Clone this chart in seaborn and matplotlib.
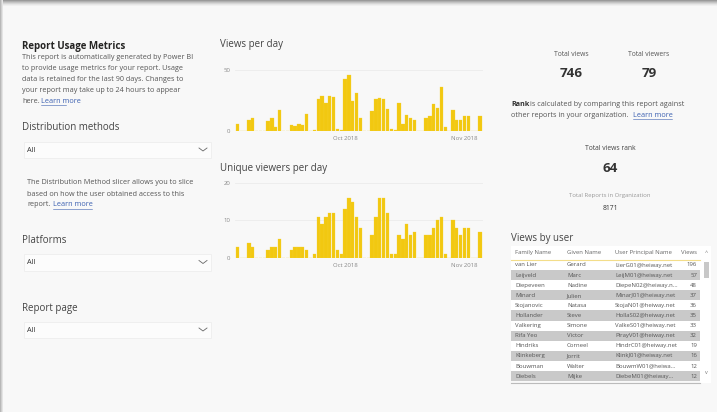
import pandas as pd
import seaborn as sns
import matplotlib.pyplot as plt
from matplotlib.patches import Rectangle
from matplotlib.lines import Line2D

W, H = 717, 412

# daily data, Sep 3 - Nov 5 2018 (0 = no activity)
dates = pd.date_range("2018-09-03", "2018-11-05")
views = [6, 0, 0, 9, 11, 0, 0, 0, 8, 11, 3, 17, 0, 0, 5, 4, 6, 5, 14, 0, 1,
         26, 29, 23, 29, 28, 2, 1, 43, 46, 25, 31, 11, 0, 0, 16, 26, 27, 26, 18,
         2, 1, 23, 6, 13, 11, 9, 0, 0, 11, 12, 22, 19, 36, 3, 0, 17, 9, 9, 12,
         12, 0, 0, 12]
viewers = [3, 0, 0, 4, 3, 0, 0, 0, 2, 3, 3, 5, 0, 0, 2, 3, 3, 3, 2, 0, 1,
           11, 9, 11, 12, 12, 2, 1, 13, 16, 15, 11, 8, 0, 0, 6, 11, 16, 16, 12,
           1, 1, 6, 5, 9, 6, 7, 0, 0, 6, 6, 8, 10, 11, 1, 0, 10, 8, 6, 8,
           8, 0, 0, 7]
month_ticks = ["2018-10-01", "2018-11-01"]
month_labels = ["Oct 2018", "Nov 2018"]

family = ["van Lier", "Leijveld", "Diepeveen", "Minard", "Stojanovic", "Hollander",
          "Valkering", "Rifa Yeo", "Hindriks", "Klinkeberg", "Bouwman", "Diebels"]
given = ["Gerard", "Marc", "Nadine", "Julien", "Natasa", "Steve",
         "Simone", "Victor", "Corneel", "Jorrit", "Walter", "Mijke"]
upn = ["LierG01@heiway.net", "LeijM01@heiway.net", "DiepeN02@heiway.n...",
       "MinarJ01@heiway.net", "StojaN01@heiway.net", "HollaS02@heiway.net",
       "ValkeS01@heiway.net", "PirayV01@heiway.net", "HindrC01@heiway.net",
       "KlinkJ01@heiway.net", "BouwmW01@heiwa...", "DiebeM01@heiway..."]
user_views = [196, 57, 48, 37, 36, 35, 33, 32, 19, 16, 12, 12]

total_views, total_viewers, views_rank, total_reports = 746, 79, 64, 8171

df = pd.DataFrame({"day": (dates - dates[0]).days, "views": views, "viewers": viewers})
tick_pos = [(pd.Timestamp(d) - dates[0]).days for d in month_ticks]

plt.rcParams["font.family"] = ["Open Sans", "DejaVu Sans"]
BG = "#f8f8f8"
YELLOW = "#F2C811"

fig = plt.figure(figsize=(W / 100, H / 100), dpi=100, facecolor=BG)


def t(x, y, s, size=5, color="#555555", **kw):
    kw.setdefault("va", "center")
    return fig.text(x / W, 1 - y / H, s, fontsize=size, color=color, **kw)


def rect(x0, y0, x1, y1, **kw):
    fig.patches.append(Rectangle((x0 / W, 1 - y1 / H), (x1 - x0) / W, (y1 - y0) / H,
                                 transform=fig.transFigure, **kw))


def line(xs, ys, **kw):
    fig.lines.append(Line2D([x / W for x in xs], [1 - y / H for y in ys],
                            transform=fig.transFigure, **kw))


# window shadow at top / left
for i, c in enumerate(["#9a9a9a", "#b0b0b0", "#c4c4c4", "#d6d6d6", "#e6e6e6", "#f0f0f0"]):
    rect(0, i, W, i + 1, color=c, lw=0)
for i, c in enumerate(["#b8b8b8", "#d0d0d0", "#e4e4e4"]):
    rect(i, 0, i + 1, H, color=c, lw=0)


def bar_axes(top, bottom, col, ymax, ticks):
    ax = fig.add_axes([235 / W, 1 - bottom / H, (483 - 235) / W, (bottom - top) / H])
    ax.set_facecolor(BG)
    sns.barplot(data=df, x="day", y=col, ax=ax, native_scale=True, color=YELLOW,
                errorbar=None, width=0.86, saturation=1, edgecolor="#f4d232", linewidth=0.2)
    ax.set_xlim(-0.6, 63.8)
    ax.set_ylim(0, ymax)
    ax.set_yticks(ticks)
    ax.set_xticks(tick_pos)
    ax.set_xticklabels(month_labels)
    ax.tick_params(length=0, labelsize=4.3, labelcolor="#888888", pad=3.5)
    ax.grid(axis="y", color="#ececec", lw=0.6)
    ax.set_axisbelow(True)
    for s in ax.spines.values():
        s.set_visible(False)
    ax.set_xlabel("")
    ax.set_ylabel("")
    return ax


bar_axes(67.6, 131, "views", 52, [0, 50])
bar_axes(179, 258, "viewers", 21, [0, 10, 20])

t(220, 44, "Views per day", 7, "#444444")
t(220, 169, "Unique viewers per day", 7, "#444444")

# left panel
t(22, 46, "Report Usage Metrics", 7, "#252423", weight="bold")
intro = ["This report is automatically generated by Power BI",
         "to provide usage metrics for your report. Usage",
         "data is retained for the last 90 days. Changes to",
         "your report may take up to 24 hours to appear",
         "here."]
for i, s in enumerate(intro):
    t(22, 57.5 + i * 11, s, 5.2, "#555555")
LINK = "#3a5fb0"
t(41, 101.5, "Learn more", 5.2, LINK)
line([41, 66], [105, 105], color=LINK, lw=0.4)

t(22, 128, "Distribution methods", 7, "#444444")
t(22, 241, "Platforms", 7, "#444444")
t(22, 309, "Report page", 7, "#444444")
for y0 in [141.5, 254, 321.5]:
    rect(24, y0, 211, y0 + 16.5, facecolor="#fcfcfc", edgecolor="#ebebeb", lw=0.5)
    t(27, y0 + 8.5, "All", 5.3, "#333333")
    line([199, 203, 207], [y0 + 6.5, y0 + 9.5, y0 + 6.5], color="#666666", lw=0.6)

dist = ["The Distribution Method slicer allows you to slice",
        "based on how the user obtained access to this",
        "report."]
for i, s in enumerate(dist):
    t(27, 183 + i * 11, s, 5.2, "#555555")
t(53, 205, "Learn more", 5.2, LINK)
line([53, 92], [208.5, 208.5], color=LINK, lw=0.4)

# cards
t(571, 54, "Total views", 4.9, "#555555", ha="center")
t(649, 54, "Total viewers", 4.9, "#555555", ha="center")
t(571, 73.5, f"{total_views}", 9.6, "#333333", ha="center", weight="bold")
t(649, 73.5, f"{total_viewers}", 9.6, "#333333", ha="center", weight="bold")

t(511, 105, "Rank", 5.2, "#333333", weight="bold")
t(530.5, 105, "is calculated by comparing this report against", 5.2, "#555555")
t(511, 115.5, "other reports in your organization.", 5.2, "#555555")
t(633, 115.5, "Learn more", 5.2, LINK)
line([633, 672], [119, 119], color=LINK, lw=0.4)

t(610, 148, "Total views rank", 4.9, "#444444", ha="center")
t(610, 168, f"{views_rank}", 9.6, "#333333", ha="center", weight="bold")
t(610, 195, "Total Reports in Organization", 4.3, "#999999", ha="center")
t(610, 208, f"{total_reports}", 4.9, "#333333", ha="center")

# table
t(511, 238, "Views by user", 7, "#444444")
rect(511, 246, 700, 260, facecolor="#ffffff", lw=0)
cols_x = [515, 567, 615]
headers = ["Family Name", "Given Name", "User Principal Name"]
for x, h in zip(cols_x, headers):
    t(x, 252.5, h, 4.3, "#666666")
t(697, 252.5, "Views", 4.3, "#666666", ha="right")
line([511, 700], [259.5, 259.5], color="#f3dd8a", lw=0.8)
for i in range(len(family)):
    yc = 265 + i * 10.1
    fc = "#ffffff" if i % 2 == 0 else "#c9c9c9"
    rect(511, yc - 5.05, 700, yc + 5.05, facecolor=fc, lw=0)
    t(515, yc, family[i], 4.3, "#555555")
    t(567, yc, given[i], 4.3, "#555555")
    t(615, yc, upn[i], 4.3, "#555555")
    t(697, yc, f"{user_views[i]}", 4.3, "#555555", ha="right")
line([511, 700], [382.5, 382.5], color="#bbbbbb", lw=0.8)
rect(700, 246, 711, 382.5, facecolor="#ffffff", lw=0)
rect(704, 261.5, 708.5, 278, facecolor="#c8c8c8", lw=0)
t(706, 253, "^", 4, "#777777", ha="center")
t(706, 373, "v", 4, "#777777", ha="center")

fig.savefig("out.png", dpi=100, facecolor=BG)
